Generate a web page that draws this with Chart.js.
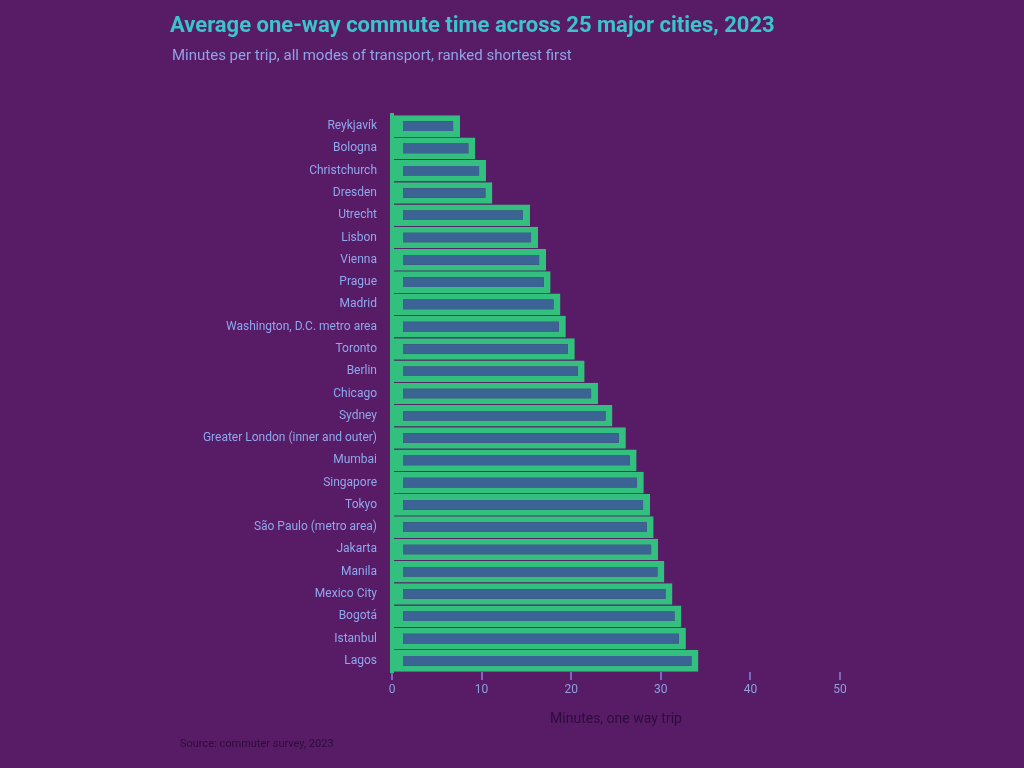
<!DOCTYPE html>
<html>
<head>
<meta charset="utf-8">
<script src="https://cdn.jsdelivr.net/npm/chart.js@4.4.1/dist/chart.umd.min.js"></script>
<style>
  html, body { margin: 0; padding: 0; background: #581c66; }
  #wrap { position: relative; width: 1024px; height: 768px; overflow: hidden; background: #581c66; font-family: Roboto, "Noto Sans", sans-serif; }
  #chart { position: absolute; left: 0; top: 0; }
  #title { position: absolute; left: 170px; top: 12px; font-size: 22px; font-weight: 700; color: #3cc4cc; white-space: nowrap; }
  #subtitle { position: absolute; left: 172px; top: 46px; font-size: 15px; color: #8fa4e6; white-space: nowrap; }
  #note { position: absolute; left: 180px; top: 737px; font-size: 11px; color: #2e0c3c; white-space: nowrap; }
</style>
</head>
<body>
<div id="wrap">
  <canvas id="chart" width="1024" height="768"></canvas>
  <div id="title">Average one-way commute time across 25 major cities, 2023</div>
  <div id="subtitle">Minutes per trip, all modes of transport, ranked shortest first</div>
  <div id="note">Source: commuter survey, 2023</div>
</div>
<script>
const categories = [
  "Reykjavík", "Bologna", "Christchurch", "Dresden", "Utrecht",
  "Lisbon", "Vienna", "Prague", "Madrid", "Washington, D.C. metro area",
  "Toronto", "Berlin", "Chicago", "Sydney", "Greater London (inner and outer)",
  "Mumbai", "Singapore", "Tokyo", "São Paulo (metro area)", "Jakarta",
  "Manila", "Mexico City", "Bogotá", "Istanbul", "Lagos"
];
const commuteMinutes = [
  7.6, 9.3, 10.5, 11.2, 15.4,
  16.3, 17.2, 17.7, 18.8, 19.4,
  20.4, 21.5, 23.0, 24.6, 26.1,
  27.3, 28.1, 28.8, 29.2, 29.7,
  30.4, 31.3, 32.3, 32.8, 34.2
];
const xTickValues = [0, 10, 20, 30, 40, 50];
const xAxisTitle = "Minutes, one way trip";

new Chart(document.getElementById('chart'), {
  type: 'bar',
  data: {
    labels: categories,
    datasets: [{
      label: 'Minutes',
      data: commuteMinutes,
      backgroundColor: '#3b6494',
      borderColor: '#33c07e',
      borderWidth: { top: 6, bottom: 6, left: 10, right: 7 },
      borderSkipped: false,
      barPercentage: 1.0,
      categoryPercentage: 0.97
    }]
  },
  options: {
    indexAxis: 'y',
    responsive: false,
    animation: false,
    layout: { padding: { left: 192, right: 184, top: 115, bottom: 36 } },
    plugins: { legend: { display: false }, tooltip: { enabled: false } },
    scales: {
      x: {
        min: xTickValues[0],
        max: xTickValues[xTickValues.length - 1],
        afterBuildTicks: (s) => { s.ticks = xTickValues.map(v => ({ value: v })); },
        afterFit: (s) => { s.height = 60; },
        grid: { display: true, drawOnChartArea: false, drawTicks: true, tickLength: 8, color: '#7a68bf', lineWidth: 2 },
        border: { display: false },
        ticks: { color: '#8f9fe0', font: { family: 'Roboto', size: 12 }, padding: 3 },
        title: { display: true, text: xAxisTitle, color: '#2e0c3c', font: { family: 'Roboto', size: 14 } }
      },
      y: {
        afterFit: (s) => { s.width = 200; },
        grid: { display: false },
        border: { display: true, color: '#33c07e', width: 4 },
        ticks: { color: '#8fa8ee', font: { family: 'Roboto', size: 12 }, padding: 7, autoSkip: false }
      }
    }
  }
});
</script>
</body>
</html>
